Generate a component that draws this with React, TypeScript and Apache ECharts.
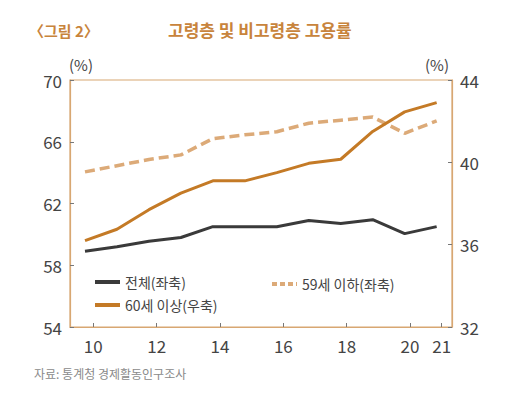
import React, { useEffect, useRef } from "react";
import * as echarts from "echarts";

const years = [2010, 2011, 2012, 2013, 2014, 2015, 2016, 2017, 2018, 2019, 2020, 2021];
const yearPos = [10, 11, 12, 13, 14, 15, 16, 17, 18, 19, 20, 21];
const totalRate = [58.9, 59.2, 59.55, 59.8, 60.5, 60.5, 60.5, 60.9, 60.7, 60.95, 60.05, 60.5];
const under59Rate = [64.05, 64.45, 64.85, 65.15, 66.2, 66.45, 66.65, 67.2, 67.4, 67.6, 66.55, 67.35];
const over60Rate = [36.2, 36.75, 37.7, 38.5, 39.1, 39.1, 39.5, 39.95, 40.15, 41.5, 42.45, 42.9];
const xTickLabels = [10, 12, 14, 16, 18, 20, 21];
const seriesNames = ["전체(좌축)", "59세 이하(좌축)", "60세 이상(우축)"];

const FONT = "'Noto Sans CJK KR', 'Noto Sans', sans-serif";
const TAN = "#d8a772";
const ORANGE = "#c47a26";
const DASH = "#dcaa78";
const DARK = "#3a3a3a";

export default function App() {
  const ref = useRef<HTMLDivElement>(null);
  useEffect(() => {
    if (!ref.current) return;
    const chart = echarts.init(ref.current, null, { renderer: "svg" });
    const pts = (vals: number[]) => yearPos.map((x, i) => [x, vals[i]]);
    const legendCommon = {
      orient: "vertical",
      itemWidth: 25,
      itemHeight: 12,
      itemStyle: { opacity: 0 },
      textStyle: { fontSize: 14, color: "#444", fontFamily: FONT },
    };
    chart.setOption({
      animation: false,
      textStyle: { fontFamily: FONT },
      grid: {
        left: 70,
        right: 60,
        top: 80,
        bottom: 72,
        show: true,
        borderColor: TAN,
        borderWidth: 1.2,
      },
      xAxis: [
        {
          type: "value",
          min: 9.264,
          max: 21.325,
          axisLine: { show: true, lineStyle: { color: TAN, width: 1.2 } },
          splitLine: { show: false },
          axisTick: {
            show: true,
            inside: true,
            length: 4,
            customValues: xTickLabels,
            lineStyle: { color: "#777" },
          },
          axisLabel: {
            customValues: xTickLabels,
            color: "#444",
            fontSize: 17,
            margin: 10,
            fontFamily: FONT,
          },
        },
        {
          type: "value",
          min: 9.531,
          max: 21.48,
          show: false,
        },
      ],
      yAxis: [
        {
          type: "value",
          min: 54,
          max: 70,
          interval: 4,
          splitLine: { show: false },
          axisLine: { show: true, lineStyle: { color: TAN, width: 1.2 } },
          axisTick: { show: true, inside: true, length: 4, lineStyle: { color: "#777" } },
          axisLabel: { color: "#444", fontSize: 17, margin: 8, fontFamily: FONT },
        },
        {
          type: "value",
          min: 32,
          max: 44,
          interval: 4,
          position: "right",
          splitLine: { show: false },
          axisLine: { show: true, lineStyle: { color: TAN, width: 1.2 } },
          axisTick: { show: true, inside: true, length: 4, lineStyle: { color: "#777" } },
          axisLabel: { color: "#444", fontSize: 17, margin: 8, fontFamily: FONT },
        },
      ],
      legend: [
        {
          ...legendCommon,
          data: [seriesNames[0], seriesNames[2]],
          left: 88,
          top: 270,
          itemGap: 9,
          lineStyle: { width: 4 },
        },
        {
          ...legendCommon,
          data: [seriesNames[1]],
          left: 265,
          top: 272,
          lineStyle: { width: 4, type: [5, 3] },
        },
      ],
      series: [
        {
          name: seriesNames[0],
          type: "line",
          xAxisIndex: 1,
          yAxisIndex: 0,
          data: pts(totalRate),
          symbol: "none",
          lineStyle: { color: DARK, width: 3 },
          itemStyle: { color: DARK },
        },
        {
          name: seriesNames[1],
          type: "line",
          xAxisIndex: 1,
          yAxisIndex: 0,
          data: pts(under59Rate),
          symbol: "none",
          lineStyle: { color: DASH, width: 3.5, type: [10, 5] },
          itemStyle: { color: DASH },
        },
        {
          name: seriesNames[2],
          type: "line",
          xAxisIndex: 1,
          yAxisIndex: 1,
          data: pts(over60Rate),
          symbol: "none",
          lineStyle: { color: ORANGE, width: 3 },
          itemStyle: { color: ORANGE },
        },
      ],
      graphic: [
        {
          type: "text",
          left: 29,
          top: 23,
          style: { text: "〈그림 2〉", fill: "#c8843c", font: `600 15px ${FONT}` },
        },
        {
          type: "text",
          left: 168,
          top: 21,
          style: { text: "고령층 및 비고령층 고용률", fill: "#c8843c", font: `600 17px ${FONT}` },
        },
        {
          type: "text",
          left: 69,
          top: 57,
          style: { text: "(%)", fill: "#444", font: `15px ${FONT}` },
        },
        {
          type: "text",
          left: 425,
          top: 57,
          style: { text: "(%)", fill: "#444", font: `15px ${FONT}` },
        },
        {
          type: "text",
          left: 34,
          top: 367,
          style: { text: "자료: 통계청 경제활동인구조사", fill: "#8a8a8a", font: `12px ${FONT}` },
        },
      ],
    });
    return () => chart.dispose();
  }, []);
  return <div ref={ref} style={{ width: 512, height: 399, position: "absolute", left: 0, top: 0 }} />;
}
